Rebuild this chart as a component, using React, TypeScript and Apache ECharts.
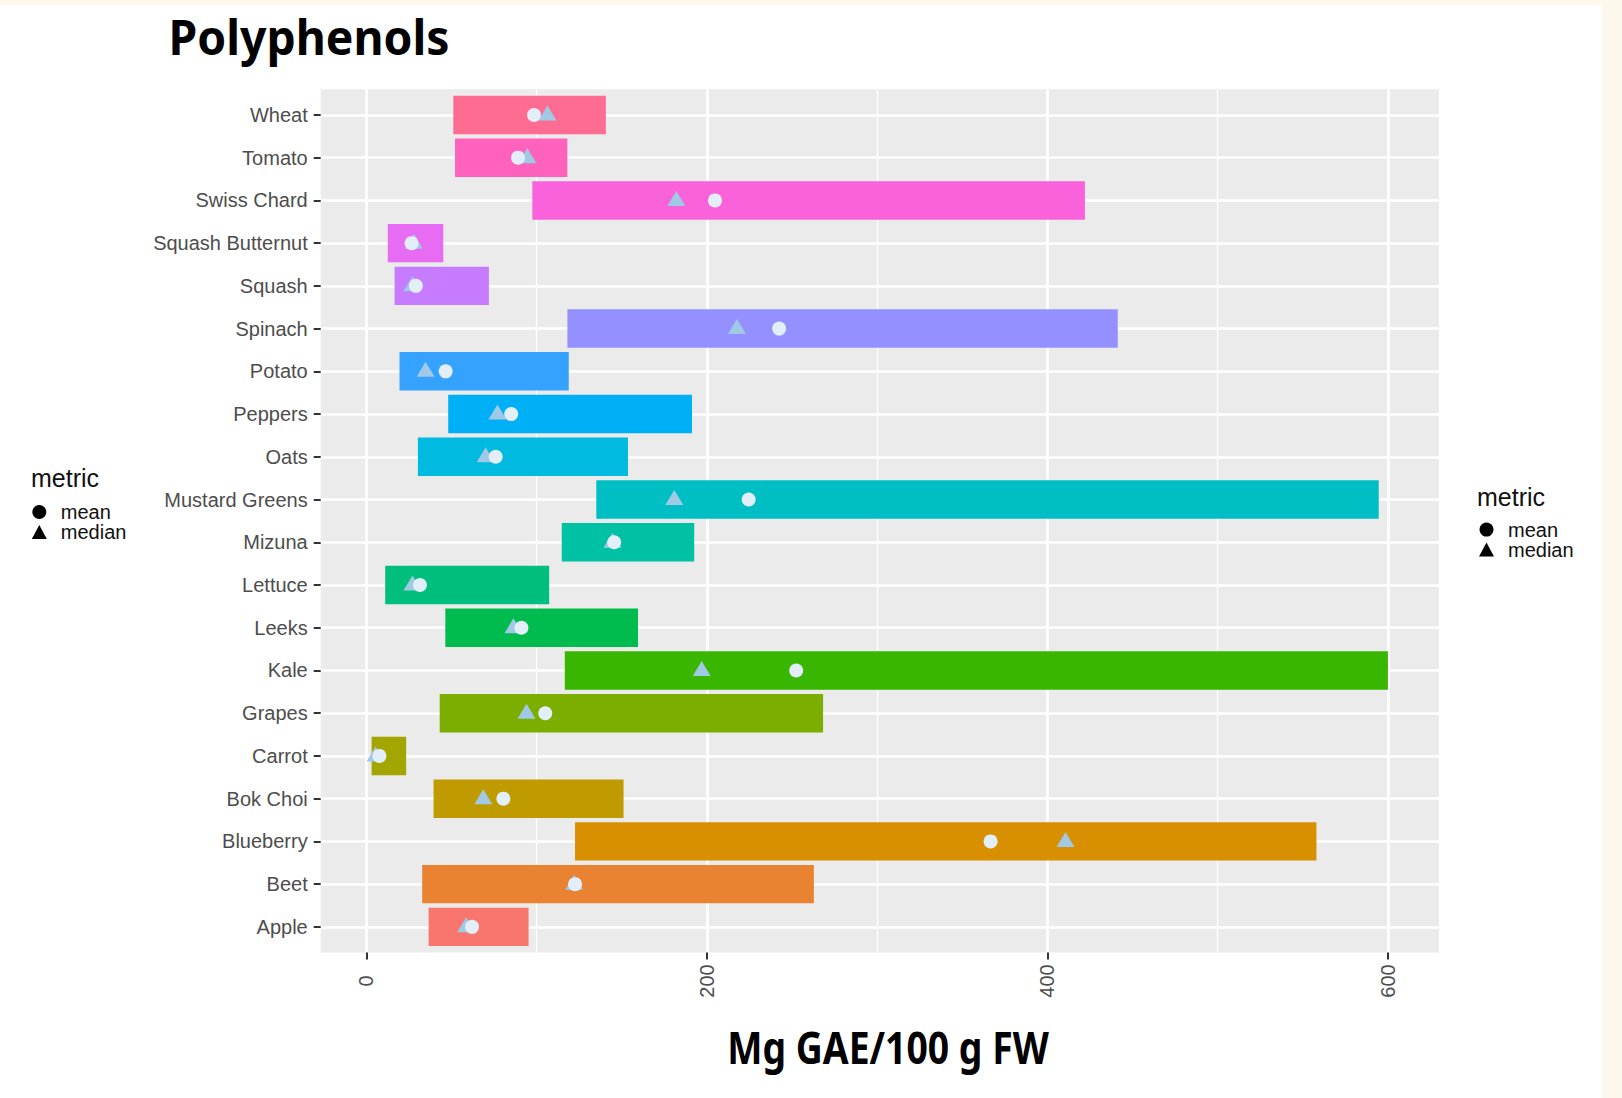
import React, { useEffect, useRef } from "react";
import * as echarts from "echarts";

// Categories, bottom (index 0) to top
const categories = [
  "Apple", "Beet", "Blueberry", "Bok Choi", "Carrot", "Grapes", "Kale", "Leeks",
  "Lettuce", "Mizuna", "Mustard Greens", "Oats", "Peppers", "Potato", "Spinach",
  "Squash", "Squash Butternut", "Swiss Chard", "Tomato", "Wheat",
];
const rangeLow = [36.5, 32.7, 122.5, 39.4, 3, 43, 116.5, 46.3, 11, 114.7, 135, 30.2, 48, 19.4, 118, 16.5, 12.5, 97.4, 52, 51];
const rangeHigh = [95.2, 262.8, 558, 151, 23.3, 268.2, 600, 159.5, 107.3, 192.5, 594.6, 153.6, 191.2, 118.8, 441.3, 71.9, 45.1, 422, 118, 140.6];
const meanValues = [62, 122.5, 366.6, 80.4, 7.6, 105, 252.4, 91, 31.4, 145.5, 224.5, 75.9, 85, 46.5, 242.4, 29, 26.5, 204.7, 89, 98.4];
const medianValues = [58.5, 122, 410.6, 68.6, 5.3, 94, 196.9, 86.3, 27, 144.5, 180.8, 70, 76.9, 34.7, 217.6, 27, 27.8, 182, 94.5, 106.3];
const majorTicks = [0, 200, 400, 600];
const minorTicks = [100, 300, 500];

const barColors = [
  "#F8766D", "#EA8331", "#D89000", "#C09B00", "#A3A500", "#7CAE00", "#39B600", "#00BB4E",
  "#00BF7D", "#00C1A3", "#00BFC4", "#00BAE0", "#00B0F6", "#35A2FF", "#9590FF", "#C77CFF",
  "#E76BF3", "#FA62DB", "#FF62BC", "#FF6C91",
];

export default function App() {
  const ref = useRef<HTMLDivElement>(null);
  useEffect(() => {
    document.body.style.margin = "0";
    const chart = echarts.init(ref.current!, undefined, { renderer: "svg" });
    const catIdx = categories.map((_, i) => i);
    const rangeData = categories.map((_, i) => [rangeLow[i], rangeHigh[i], i]);
    const meanData = categories.map((_, i) => [meanValues[i], i]);
    const medianData = categories.map((_, i) => [medianValues[i], i]);
    const font = "Liberation Sans";
    const legendCommon = {
      orient: "vertical",
      itemWidth: 15,
      itemHeight: 14,
      itemGap: 0,
      padding: 0,
      selectedMode: false,
      data: ["mean", "median"],
      itemStyle: { color: "#000" },
      textStyle: { fontSize: 20, lineHeight: 20, color: "#111", fontFamily: font, padding: [0, 0, 0, 9] },
    };
    chart.setOption({
      animation: false,
      textStyle: { fontFamily: font },
      grid: {
        left: 320.7,
        top: 89.3,
        right: 183,
        bottom: 145.5,
        show: true,
        backgroundColor: "#EBEBEB",
        borderWidth: 0,
      },
      xAxis: [
        {
          type: "value",
          min: -26.9,
          max: 630,
          position: "bottom",
          axisLine: { show: false, onZero: false },
          axisTick: { show: true, length: 7, lineStyle: { color: "#333", width: 2 }, customValues: majorTicks },
          axisLabel: {
            customValues: majorTicks,
            rotate: 90,
            align: "center",
            verticalAlign: "middle",
            margin: 28.5,
            fontSize: 20,
            color: "#4D4D4D",
            fontFamily: font,
          },
          splitLine: { show: true, lineStyle: { color: "#FFFFFF", width: 2.6 } },
        },
        {
          type: "value",
          min: -26.9,
          max: 630,
          position: "bottom",
          axisLine: { show: false, onZero: false },
          axisTick: { show: false, customValues: minorTicks },
          axisLabel: { show: false, customValues: minorTicks },
          splitLine: { show: true, lineStyle: { color: "#FFFFFF", width: 1.3 } },
        },
      ],
      yAxis: {
        type: "value",
        min: -0.6,
        max: 19.6,
        position: "left",
        axisLine: { show: false, onZero: false },
        axisTick: { show: true, length: 7, lineStyle: { color: "#333", width: 2 }, customValues: catIdx },
        axisLabel: {
          customValues: catIdx,
          margin: 13,
          fontSize: 20,
          color: "#4D4D4D",
          fontFamily: font,
          formatter: (v: number) => categories[Math.round(v)] ?? "",
        },
        splitLine: { show: true, lineStyle: { color: "#FFFFFF", width: 2.6 } },
      },
      legend: [
        { ...legendCommon, left: 31.8, top: 502 },
        { ...legendCommon, left: 1479, top: 519.6 },
      ],
      graphic: [
        {
          type: "text",
          x: 168.6,
          y: 35.7,
          scaleX: 0.945,
          style: {
            text: "Polyphenols",
            x: 0,
            y: 0,
            fill: "#000",
            fontFamily: "Noto Sans",
            fontWeight: "bold",
            fontSize: 49,
            textAlign: "left",
            textVerticalAlign: "middle",
          },
        },
        {
          type: "text",
          x: 888,
          y: 1047,
          scaleX: 0.83,
          style: {
            text: "Mg GAE/100 g FW",
            x: 0,
            y: 0,
            fill: "#000",
            fontFamily: "Noto Sans",
            fontWeight: "bold",
            fontSize: 45,
            textAlign: "center",
            textVerticalAlign: "middle",
          },
        },
        {
          type: "text",
          x: 31,
          y: 478,
          style: { text: "metric", x: 0, y: 0, fill: "#111", fontFamily: font, fontSize: 25, textAlign: "left", textVerticalAlign: "middle" },
        },
        {
          type: "text",
          x: 1477,
          y: 496.5,
          style: { text: "metric", x: 0, y: 0, fill: "#111", fontFamily: font, fontSize: 25, textAlign: "left", textVerticalAlign: "middle" },
        },
      ],
      series: [
        {
          type: "custom",
          name: "range",
          xAxisIndex: 0,
          encode: { x: [0, 1], y: 2 },
          data: rangeData,
          renderItem: (params: any, api: any) => {
            const lo = api.value(0);
            const hi = api.value(1);
            const yi = api.value(2);
            const s = api.coord([lo, yi]);
            const e = api.coord([hi, yi]);
            const h = api.size([0, 1])[1] * 0.9;
            return {
              type: "rect",
              shape: { x: s[0], y: s[1] - h / 2, width: e[0] - s[0], height: h },
              style: { fill: barColors[params.dataIndex] },
            };
          },
        },
        {
          type: "scatter",
          name: "median",
          xAxisIndex: 0,
          symbol: "triangle",
          symbolSize: [18, 15],
          symbolOffset: [0, -2],
          itemStyle: { color: "#9FC9E4", opacity: 1 },
          data: medianData,
        },
        {
          type: "scatter",
          name: "mean",
          xAxisIndex: 0,
          symbol: "circle",
          symbolSize: 14,
          itemStyle: { color: "#E2EEF8", opacity: 1 },
          data: meanData,
        },
      ],
    });
    return () => chart.dispose();
  }, []);
  return (
    <div style={{ position: "relative", width: 1622, height: 1098, background: "#FDF8EC" }}>
      <div style={{ position: "absolute", left: 0, top: 5, width: 1602, height: 1093, background: "#FFFFFF" }} />
      <div ref={ref} style={{ position: "absolute", left: 0, top: 0, width: 1622, height: 1098 }} />
    </div>
  );
}
